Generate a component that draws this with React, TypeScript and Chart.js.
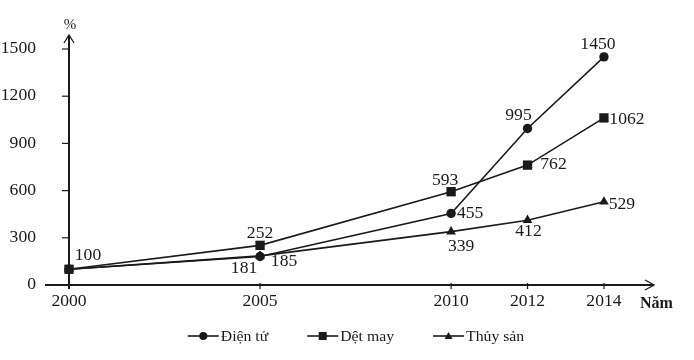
import React, { useEffect, useRef } from 'react';
import { Chart, registerables } from 'chart.js';

Chart.register(...registerables);

const YEARS = [2000, 2005, 2010, 2012, 2014];
const DIEN_TU = [100, 181, 455, 995, 1450];
const DET_MAY = [100, 252, 593, 762, 1062];
const THUY_SAN = [100, 185, 339, 412, 529];
const SERIES_NAMES = ['Điện tử', 'Dệt may', 'Thủy sản'];
const Y_TICKS = [0, 300, 600, 900, 1200, 1500];
const X_TICKS = YEARS;
const Y_TITLE = '%';
const X_TITLE = 'Năm';

// label placement offsets (dx, dy) relative to each point; null = not shown
const LABEL_OFFSETS: (number[] | null)[][] = [
  [null, [-16, 12], [19, 0], [-9, -13], [-6, -12]],
  [[19, -13], [0, -12], [-6, -11], [26, 0], [23, 2]],
  [null, [24, 6], [10, 15], [1, 12], [18, 3]],
];

const FONT = '"Liberation Serif", "Times New Roman", serif';
const INK = '#1a1a1a';
const POINT_STYLES = ['circle', 'rect', 'triangle'];
const POINT_RADII = [4.7, 6.6, 5.6];
const STRETCH = 1.1;

function stretchText(ctx: CanvasRenderingContext2D, text: string, x: number, y: number) {
  ctx.save();
  ctx.translate(x, y);
  ctx.scale(STRETCH, 1);
  ctx.fillText(text, 0, 0);
  ctx.restore();
}

function drawMarker(ctx: CanvasRenderingContext2D, style: string, x: number, y: number, s: number) {
  ctx.beginPath();
  if (style === 'circle') {
    ctx.arc(x, y, s / 2, 0, Math.PI * 2);
  } else if (style === 'rect') {
    ctx.rect(x - s / 2, y - s / 2, s, s);
  } else {
    ctx.moveTo(x, y - s / 2);
    ctx.lineTo(x + s / 2, y + s / 2 - 1);
    ctx.lineTo(x - s / 2, y + s / 2 - 1);
    ctx.closePath();
  }
  ctx.fill();
}

const axesPlugin = {
  id: 'customAxes',
  beforeDatasetsDraw(chart: any) {
    const { ctx, chartArea, scales } = chart;
    const xs = scales.x;
    const ys = scales.y;
    const x0 = xs.getPixelForValue(X_TICKS[0]);
    const y0 = ys.getPixelForValue(0);
    ctx.save();
    ctx.strokeStyle = INK;
    ctx.fillStyle = INK;
    ctx.lineWidth = 2;
    // y axis
    ctx.beginPath();
    ctx.moveTo(x0, y0 + 4);
    ctx.lineTo(x0, chartArea.top);
    ctx.stroke();
    ctx.lineWidth = 1.3;
    ctx.beginPath();
    ctx.moveTo(x0 - 5, chartArea.top + 8);
    ctx.lineTo(x0, chartArea.top);
    ctx.lineTo(x0 + 5, chartArea.top + 8);
    ctx.stroke();
    // x axis
    ctx.lineWidth = 2;
    ctx.beginPath();
    ctx.moveTo(x0 - 24, y0);
    ctx.lineTo(chartArea.right, y0);
    ctx.stroke();
    ctx.lineWidth = 1.3;
    ctx.beginPath();
    ctx.moveTo(chartArea.right - 9, y0 - 5);
    ctx.lineTo(chartArea.right, y0);
    ctx.lineTo(chartArea.right - 9, y0 + 5);
    ctx.stroke();
    // y ticks
    ctx.lineWidth = 1.2;
    ctx.font = `16px ${FONT}`;
    ctx.textAlign = 'right';
    ctx.textBaseline = 'middle';
    Y_TICKS.forEach((v) => {
      const py = ys.getPixelForValue(v);
      if (v !== 0) {
        ctx.beginPath();
        ctx.moveTo(x0 - 7, py);
        ctx.lineTo(x0, py);
        ctx.stroke();
      }
      stretchText(ctx, String(v), 36, py);
    });
    // x ticks
    ctx.textAlign = 'center';
    X_TICKS.forEach((v) => {
      const px = xs.getPixelForValue(v);
      ctx.beginPath();
      ctx.moveTo(px, y0 - 2);
      ctx.lineTo(px, y0 + 4);
      ctx.stroke();
      stretchText(ctx, String(v), px, y0 + 17);
    });
    ctx.font = `bold 16px ${FONT}`;
    ctx.textAlign = 'left';
    ctx.fillText(X_TITLE, chartArea.right - 14, y0 + 19);
    ctx.font = `15px ${FONT}`;
    ctx.textAlign = 'center';
    ctx.fillText(Y_TITLE, x0 + 1, chartArea.top - 10);
    ctx.restore();
  },
  afterDatasetsDraw(chart: any) {
    const { ctx } = chart;
    ctx.save();
    ctx.fillStyle = INK;
    ctx.font = `16px ${FONT}`;
    ctx.textAlign = 'center';
    ctx.textBaseline = 'middle';
    chart.data.datasets.forEach((ds: any, di: number) => {
      const meta = chart.getDatasetMeta(di);
      meta.data.forEach((pt: any, i: number) => {
        const off = LABEL_OFFSETS[ds.seriesIndex][i];
        if (!off) return;
        stretchText(ctx, String(ds.data[i].y), pt.x + off[0], pt.y + off[1]);
      });
    });
    // legend
    ctx.font = `15px ${FONT}`;
    ctx.textAlign = 'left';
    const ly = 336;
    const lineLen = 31;
    const gap = 2;
    const between = 39;
    const widths = SERIES_NAMES.map((n) => lineLen + gap + ctx.measureText(n).width * 1.05);
    const total = widths.reduce((a, b) => a + b, 0) + between * (SERIES_NAMES.length - 1);
    let lx = 356 - total / 2;
    SERIES_NAMES.forEach((name, i) => {
      ctx.strokeStyle = INK;
      ctx.lineWidth = 1.6;
      ctx.beginPath();
      ctx.moveTo(lx, ly);
      ctx.lineTo(lx + lineLen, ly);
      ctx.stroke();
      drawMarker(ctx, POINT_STYLES[i], lx + lineLen / 2, ly, 8);
      ctx.save();
      ctx.translate(lx + lineLen + gap, ly + 1);
      ctx.scale(1.05, 1);
      ctx.fillText(name, 0, 0);
      ctx.restore();
      lx += widths[i] + between;
    });
    ctx.restore();
  },
};

export default function App() {
  const ref = useRef<HTMLCanvasElement>(null);
  useEffect(() => {
    document.body.style.margin = '0';
    const seriesValues = [DIEN_TU, DET_MAY, THUY_SAN];
    const drawOrder = [0, -1, 1];
    const chart = new Chart(ref.current!, {
      type: 'line',
      data: {
        datasets: seriesValues.map((vals, i) => ({
          label: SERIES_NAMES[i],
          seriesIndex: i,
          data: vals.map((v, j) => ({ x: YEARS[j], y: v })),
          borderColor: INK,
          backgroundColor: INK,
          borderWidth: 1.6,
          pointStyle: POINT_STYLES[i],
          pointRadius: POINT_RADII[i],
          pointBackgroundColor: INK,
          pointBorderColor: INK,
          pointBorderWidth: 0,
          tension: 0,
          clip: false,
          order: drawOrder[i],
        })) as any,
      },
      options: {
        animation: false,
        responsive: false,
        events: [],
        layout: { padding: { left: 69, right: 40, top: 35, bottom: 75 } },
        plugins: { legend: { display: false }, tooltip: { enabled: false } },
        scales: {
          x: { type: 'linear', min: 2000, max: 2015.31, display: false },
          y: { type: 'linear', min: 0, max: 1589, display: false },
        },
      },
      plugins: [axesPlugin],
    });
    return () => chart.destroy();
  }, []);
  return (
    <div style={{ width: 694, height: 360, background: '#fff' }}>
      <canvas ref={ref} width={694} height={360} />
    </div>
  );
}
